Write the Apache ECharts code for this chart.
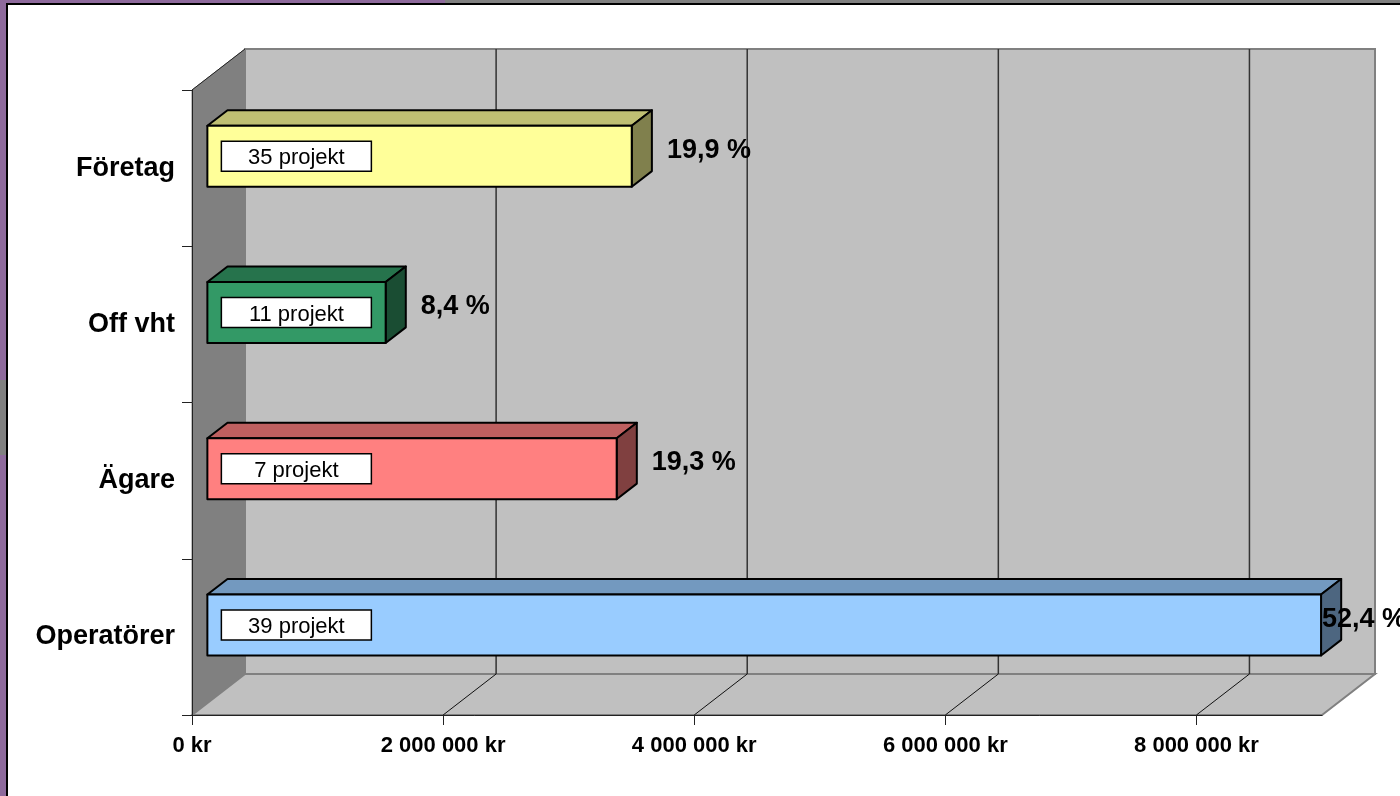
<!DOCTYPE html>
<html>
<head>
<meta charset="utf-8">
<script src="https://cdn.jsdelivr.net/npm/echarts@6/dist/echarts.min.js"></script>
<style>
  html, body { margin: 0; padding: 0; }
  body { width: 1400px; height: 796px; position: relative; overflow: hidden; background: #8e6a9c; }
  .strip { position: absolute; background: #808080; }
  .frame { position: absolute; left: 6px; top: 3px; right: 0; bottom: 0; background: #fff;
           border-left: 2px solid #000; border-top: 2px solid #000; }
  #main { position: absolute; left: 0; top: 0; width: 1400px; height: 796px; }
</style>
</head>
<body>
<div class="strip" style="left:445px;top:0;width:955px;height:4px"></div>
<div class="strip" style="left:0;top:380px;width:7px;height:75px"></div>
<div class="frame"></div>
<div id="main"></div>
<script>
// data
const categories = ['Operatörer', 'Ägare', 'Off vht', 'Företag'];
const amounts = [8870000, 3260000, 1420000, 3380000];
const projects = [39, 7, 11, 35];
const shares = [52.4, 19.3, 8.4, 19.9];
const xTicks = [0, 2000000, 4000000, 6000000, 8000000];
const xMax = 9000000;

// face colours: front, top, side
const barFronts = ['#99ccff', '#ff8080', '#339966', '#ffff99'];
const barTops = ['#7399bf', '#bf6060', '#26734c', '#bfbf73'];
const barSides = ['#4d6680', '#804040', '#1a4d33', '#80804d'];

// 3d depth offset of the back wall, in px
const DX = 53, DY = -41;
// bar sits between these depth fractions
const F0 = 0.29, F1 = 0.67;
const FONT = '"Liberation Sans", Arial, sans-serif';

const fmtKr = v => String(v).replace(/\B(?=(\d{3})+(?!\d))/g, ' ') + ' kr';
const fmtPct = v => v.toFixed(1).replace('.', ',') + ' %';

const chart = echarts.init(document.getElementById('main'), null, { renderer: 'canvas' });

function renderWalls(params, api) {
  const cs = params.coordSys;
  const x0 = api.coord([api.value(0), 0])[0];
  const x1 = api.coord([api.value(1), 0])[0];
  const top = cs.y, bot = cs.y + cs.height;
  return {
    type: 'group',
    children: [
      { type: 'polygon', shape: { points: [[x0 + DX, top + DY], [x1 + DX, top + DY], [x1 + DX, bot + DY], [x0 + DX, bot + DY]] },
        style: { fill: '#c0c0c0', stroke: '#808080', lineWidth: 2 } },
      { type: 'polygon', shape: { points: [[x0, top], [x0 + DX, top + DY], [x0 + DX, bot + DY], [x0, bot]] },
        style: { fill: '#808080', stroke: '#808080', lineWidth: 1 } },
      { type: 'polygon', shape: { points: [[x0, bot], [x0 + DX, bot + DY], [x1 + DX, bot + DY], [x1, bot]] },
        style: { fill: '#c0c0c0', stroke: '#808080', lineWidth: 2 } },
      { type: 'line', shape: { x1: x0, y1: top, x2: x0 + DX, y2: top + DY },
        style: { stroke: '#222', lineWidth: 1 } }
    ]
  };
}

function renderGrid(params, api) {
  const cs = params.coordSys;
  const x = api.coord([api.value(0), 0])[0];
  const top = cs.y, bot = cs.y + cs.height;
  return {
    type: 'group',
    children: [
      { type: 'line', shape: { x1: x + DX, y1: top + DY, x2: x + DX, y2: bot + DY },
        style: { stroke: '#333', lineWidth: 1.5 } },
      { type: 'line', shape: { x1: x + DX, y1: bot + DY, x2: x, y2: bot },
        style: { stroke: '#111', lineWidth: 1 } }
    ]
  };
}

function renderBar(params, api) {
  const cs = params.coordSys;
  const idx = api.value(1);
  const p0 = api.coord([0, idx]);
  const p1 = api.coord([api.value(0), idx]);
  const h = api.size([0, 1])[1] * 0.39;
  const xl = p0[0] + DX * F0, xr = p1[0] + DX * F0;
  const yc = p0[1] + DY * F0, yt = yc - h / 2, yb = yc + h / 2;
  const ddx = DX * (F1 - F0), ddy = DY * (F1 - F0);
  const edge = { stroke: '#000', lineWidth: 2, lineJoin: 'round' };
  const pctX = Math.min(xr + ddx + 15, cs.x + cs.width);
  return {
    type: 'group',
    children: [
      { type: 'polygon', shape: { points: [[xl, yt], [xr, yt], [xr + ddx, yt + ddy], [xl + ddx, yt + ddy]] },
        style: Object.assign({ fill: barTops[idx] }, edge) },
      { type: 'polygon', shape: { points: [[xr, yt], [xr + ddx, yt + ddy], [xr + ddx, yb + ddy], [xr, yb]] },
        style: Object.assign({ fill: barSides[idx] }, edge) },
      { type: 'rect', shape: { x: xl, y: yt, width: xr - xl, height: h },
        style: Object.assign({ fill: barFronts[idx] }, edge) },
      { type: 'rect', shape: { x: xl + 14, y: yc - 15, width: 150, height: 30 },
        style: { fill: '#fff', stroke: '#000', lineWidth: 1.5 } },
      { type: 'text', style: { x: xl + 14 + 75, y: yc + 2, text: projects[idx] + ' projekt',
          font: '22px ' + FONT, fill: '#000', align: 'center', verticalAlign: 'middle' } },
      { type: 'text', style: { x: pctX, y: yc + ddy / 2 + 2, text: fmtPct(shares[idx]),
          font: 'bold 27px ' + FONT, fill: '#000', align: 'left', verticalAlign: 'middle' } }
    ]
  };
}

chart.setOption({
  animation: false,
  textStyle: { fontFamily: FONT },
  grid: { left: 192, top: 90, right: 78, bottom: 81, containLabel: false },
  xAxis: {
    type: 'value', min: 0, max: xMax, interval: 2000000, z: 10,
    axisLine: { show: true, lineStyle: { color: '#222', width: 1 } },
    axisTick: { show: true, length: 10, customValues: xTicks, lineStyle: { color: '#222' } },
    axisLabel: { customValues: xTicks, formatter: fmtKr, color: '#000', fontWeight: 'bold', fontSize: 22, margin: 20 },
    splitLine: { show: false }
  },
  yAxis: {
    type: 'category', data: categories, z: 10,
    axisLine: { show: true, lineStyle: { color: '#222', width: 1 } },
    axisTick: { show: true, length: 10, lineStyle: { color: '#222' } },
    axisLabel: { color: '#000', fontWeight: 'bold', fontSize: 27, margin: 17 },
    splitLine: { show: false }
  },
  series: [
    { type: 'custom', silent: true, z: 1, renderItem: renderWalls, data: [[0, xMax]], encode: { x: [0, 1] } },
    { type: 'custom', silent: true, z: 2, renderItem: renderGrid, data: xTicks.filter(v => v > 0).map(v => [v]), encode: { x: 0 } },
    { type: 'custom', silent: true, z: 3, renderItem: renderBar,
      data: categories.map((c, i) => [amounts[i], i]), encode: { x: 0, y: 1 } }
  ]
});
</script>
</body>
</html>
